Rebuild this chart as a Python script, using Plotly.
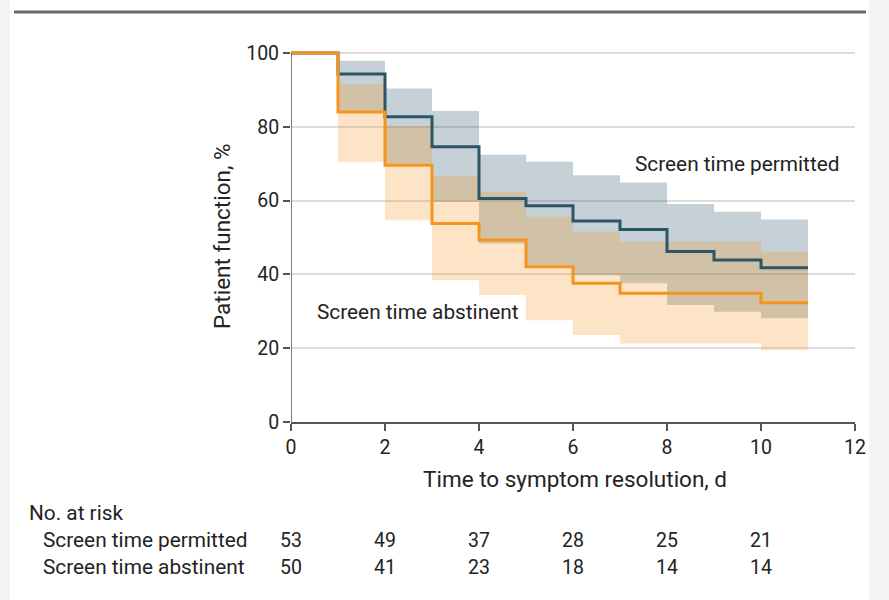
import plotly.graph_objects as go

# ---- data ----
time_pts = [0, 1, 2, 3, 4, 5, 6, 7, 8, 9, 10, 11]
permitted_surv = [100, 94.3, 82.7, 74.6, 60.6, 58.6, 54.5, 52.2, 46.2, 43.9, 41.8]
permitted_upper = [100, 97.9, 90.4, 84.3, 72.4, 70.5, 66.9, 64.9, 59.1, 57.0, 54.9]
permitted_lower = [100, 83.9, 69.6, 59.7, 48.4, 42.5, 39.8, 37.6, 31.7, 29.9, 28.1]
abstinent_surv = [100, 84.0, 69.6, 53.8, 49.3, 42.1, 37.6, 34.9, 34.9, 34.9, 32.3]
abstinent_upper = [100, 91.5, 80.2, 66.7, 62.4, 55.6, 51.6, 48.9, 48.9, 48.9, 46.2]
abstinent_lower = [100, 70.5, 54.7, 38.5, 34.4, 27.6, 23.6, 21.3, 21.3, 21.3, 19.5]

risk_times = [0, 2, 4, 6, 8, 10]
risk_permitted = [53, 49, 37, 28, 25, 21]
risk_abstinent = [50, 41, 23, 18, 14, 14]
group_names = ["Screen time permitted", "Screen time abstinent"]
x_ticks = [0, 2, 4, 6, 8, 10, 12]
y_ticks = [0, 20, 40, 60, 80, 100]


def ext(v):
    return list(v) + [v[-1]]


FONT = "Roboto, sans-serif"
TXT = "#232323"
TEAL = "#2c5666"
ORANGE = "#f7941d"
LBL = 20.8
TTL = 22.5
TCK = 19.5

fig = go.Figure()

# confidence bands
fig.add_trace(go.Scatter(x=time_pts, y=ext(permitted_lower), mode="lines",
                         line=dict(width=0, shape="hv"), hoverinfo="skip", showlegend=False))
fig.add_trace(go.Scatter(x=time_pts, y=ext(permitted_upper), mode="lines",
                         line=dict(width=0, shape="hv"), fill="tonexty",
                         fillcolor="rgba(46,88,108,0.28)", hoverinfo="skip", showlegend=False))
fig.add_trace(go.Scatter(x=time_pts, y=ext(abstinent_lower), mode="lines",
                         line=dict(width=0, shape="hv"), hoverinfo="skip", showlegend=False))
fig.add_trace(go.Scatter(x=time_pts, y=ext(abstinent_upper), mode="lines",
                         line=dict(width=0, shape="hv"), fill="tonexty",
                         fillcolor="rgba(247,148,29,0.25)", hoverinfo="skip", showlegend=False))

# survival lines
fig.add_trace(go.Scatter(x=time_pts, y=ext(permitted_surv), mode="lines",
                         line=dict(color=TEAL, width=3, shape="hv"), name=group_names[0],
                         showlegend=False))
fig.add_trace(go.Scatter(x=time_pts, y=ext(abstinent_surv), mode="lines",
                         line=dict(color=ORANGE, width=3, shape="hv"), name=group_names[1],
                         showlegend=False))

L, R, T, B = 291, 34, 46, 178
W, H = 889, 600
pw = W - L - R
ph = H - T - B


def px_x(px):
    return (px - L) / pw


def px_y(py):
    return (H - B - py) / ph


shapes = [
    dict(type="rect", xref="paper", yref="paper", x0=px_x(10), x1=px_x(869),
         y0=px_y(600), y1=px_y(0), fillcolor="white", line=dict(width=0), layer="below"),
    dict(type="line", xref="paper", yref="paper", x0=px_x(14), x1=px_x(866),
         y0=px_y(12), y1=px_y(12), line=dict(color="#6a6a6a", width=3)),
    dict(type="line", xref="x", yref="y", x0=0, x1=0, y0=0, y1=100,
         line=dict(color="#555555", width=1.5)),
]

annotations = [
    dict(text="Screen time permitted", x=7.28, y=69.9, xref="x", yref="y",
         xanchor="left", yanchor="middle", showarrow=False,
         font=dict(family=FONT, size=LBL, color=TXT)),
    dict(text="Screen time abstinent", x=0.51, y=29.8, xref="x", yref="y",
         xanchor="left", yanchor="middle", showarrow=False,
         font=dict(family=FONT, size=LBL, color=TXT)),
    dict(text="Patient function, %", x=px_x(222), y=px_y(237), xref="paper", yref="paper",
         xanchor="center", yanchor="middle", textangle=-90, showarrow=False,
         font=dict(family=FONT, size=TTL, color=TXT)),
    dict(text="Time to symptom resolution, d", x=px_x(575), y=px_y(479), xref="paper",
         yref="paper", xanchor="center", yanchor="middle", showarrow=False,
         font=dict(family=FONT, size=TTL, color=TXT)),
    dict(text="No. at risk", x=px_x(27), y=px_y(513), xref="paper", yref="paper",
         xanchor="left", yanchor="middle", showarrow=False,
         font=dict(family=FONT, size=LBL, color=TXT)),
]
row_y = [540, 567]
for name, counts, ry in zip(group_names, [risk_permitted, risk_abstinent], row_y):
    annotations.append(dict(text=name, x=px_x(41), y=px_y(ry), xref="paper", yref="paper",
                            xanchor="left", yanchor="middle", showarrow=False,
                            font=dict(family=FONT, size=LBL, color=TXT)))
    for t, c in zip(risk_times, counts):
        annotations.append(dict(text=str(c), x=t, y=px_y(ry), xref="x", yref="paper",
                                xanchor="center", yanchor="middle", showarrow=False,
                                font=dict(family=FONT, size=TCK, color=TXT)))

fig.update_layout(
    width=W, height=H,
    margin=dict(l=L, r=R, t=T, b=B, pad=0),
    paper_bgcolor="#f3f3f3",
    plot_bgcolor="rgba(0,0,0,0)",
    shapes=shapes,
    annotations=annotations,
    showlegend=False,
    xaxis=dict(range=[0, 12], tickvals=x_ticks, ticks="outside", ticklen=7,
               tickcolor="#555555", tickwidth=1.5, showline=True, linecolor="#555555",
               linewidth=1.5, showgrid=False, zeroline=False,
               tickfont=dict(family=FONT, size=TCK, color=TXT)),
    yaxis=dict(range=[0, 101.9], tickvals=y_ticks, ticks="outside", ticklen=7,
               tickcolor="#555555", tickwidth=1.5, showline=False, showgrid=True,
               gridcolor="#dcdcdc", gridwidth=2, zeroline=False,
               tickfont=dict(family=FONT, size=TCK, color=TXT)),
)

fig.write_html("out.html")
